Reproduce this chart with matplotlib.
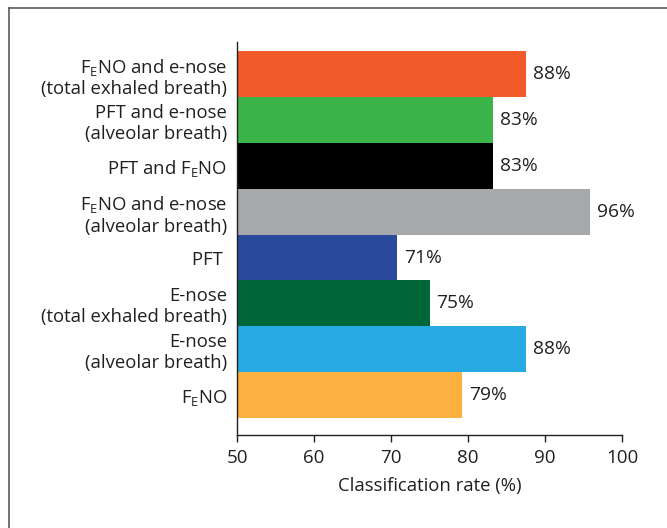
#!/usr/bin/env python3
import numpy as np
import matplotlib
matplotlib.use('Agg')
import matplotlib.pyplot as plt
from matplotlib.lines import Line2D

plt.rcParams['font.family'] = ['Open Sans', 'DejaVu Sans']
plt.rcParams['mathtext.fontset'] = 'custom'
plt.rcParams['mathtext.rm'] = 'Open Sans'
plt.rcParams['mathtext.it'] = 'Open Sans:italic'
plt.rcParams['mathtext.default'] = 'rm'

# bottom to top
labels = [
    r'F$_\mathrm{E}$NO',
    'E-nose\n(alveolar breath)',
    'E-nose\n(total exhaled breath)',
    'PFT ',
    'F$_\\mathrm{E}$NO and e-nose\n(alveolar breath)',
    'PFT and F$_\\mathrm{E}$NO',
    'PFT and e-nose\n(alveolar breath)',
    'F$_\\mathrm{E}$NO and e-nose\n(total exhaled breath)',
]
rates = [79.2, 87.5, 75.0, 70.8, 95.8, 83.3, 83.3, 87.5]
rate_text = ['79%', '88%', '75%', '71%', '96%', '83%', '83%', '88%']
colors = ['#FBB040', '#27AAE1', '#006838', '#2A489C',
          '#A7A9AC', '#000000', '#3BB54A', '#F15A2B']

TXT = '#231F20'

fig = plt.figure(figsize=(6.67, 5.28), dpi=100)
ax = fig.add_axes([237 / 667, 1 - 435 / 528, 385 / 667, 393 / 528])

y = np.arange(len(rates))
ax.barh(y, np.array(rates) - 50, left=50, height=1.0, color=colors)
for yi, r, t in zip(y, rates, rate_text):
    ax.annotate(t, (r, yi), xytext=(5, 0), textcoords='offset points',
                ha='left', va='center', fontsize=13.8, color=TXT)

ax.set_xlim(50, 100)
ax.set_ylim(-0.87, 7.7)
ax.set_xticks([50, 60, 70, 80, 90, 100])
ax.set_yticks(y)
ax.set_yticklabels(labels)
ax.tick_params(axis='y', length=0, pad=7, labelsize=13.3, labelcolor=TXT)
ax.tick_params(axis='x', length=5, width=1, direction='out', pad=5,
               labelsize=13.5, labelcolor=TXT, color=TXT)
ax.set_xlabel('Classification rate (%)', fontsize=13.3, color=TXT, labelpad=7)
for s in ['top', 'right']:
    ax.spines[s].set_visible(False)
for s in ['left', 'bottom']:
    ax.spines[s].set_color(TXT)
    ax.spines[s].set_linewidth(1)

# frame around the figure (left and top)
fx = 8.5 / 667
fy = 1 - 7.5 / 528
fig.add_artist(Line2D([fx, fx], [0, fy], transform=fig.transFigure,
                      color='#5a5a5a', lw=1.2))
fig.add_artist(Line2D([fx, 1], [fy, fy], transform=fig.transFigure,
                      color='#5a5a5a', lw=1.2))

plt.savefig('out.png', dpi=100)
plt.close()
